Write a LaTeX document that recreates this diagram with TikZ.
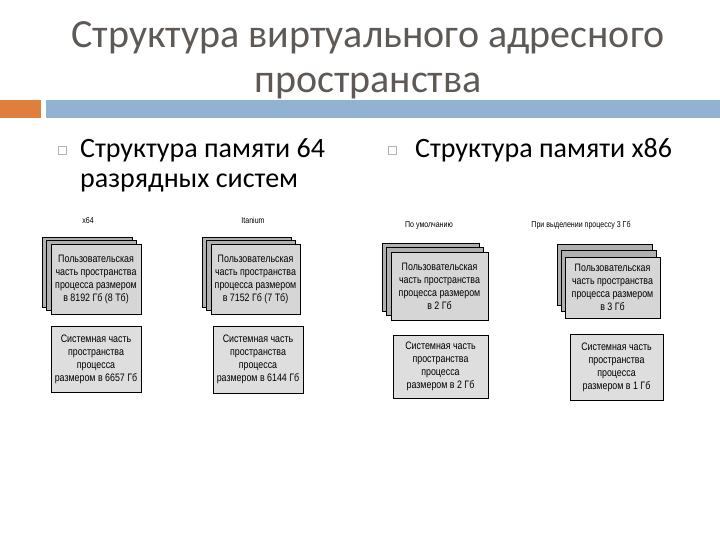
\documentclass[tikz,border=0pt]{standalone}
\usepackage{fontspec}
\setmainfont{Carlito}
\newfontfamily\narrowfont[FakeStretch=0.82]{Liberation Sans}
\usetikzlibrary{positioning}
\definecolor{titlegray}{RGB}{94,89,85}
\definecolor{barorange}{RGB}{224,126,62}
\definecolor{barblue}{RGB}{146,178,210}
\newcommand{\cardfont}{\narrowfont\fontsize{10.8}{13}\selectfont}
\newcommand{\labelfont}{\narrowfont\fontsize{8.6}{9}\selectfont}

\begin{document}
\begin{tikzpicture}[x=1pt, y=-1pt,
  backcard/.style={draw=black, line width=1pt, fill=gray!62},
  usercard/.style={draw=black, line width=1pt, fill=gray!32, align=center, inner sep=1pt, font=\cardfont},
  syscard/.style={draw=black, line width=1pt, fill=gray!26, align=center, inner sep=1pt, font=\cardfont},
  panellabel/.style={anchor=base, inner sep=0pt, font=\labelfont},
  bulletbox/.style={draw=gray!60, fill=white, minimum size=8pt, inner sep=0pt, line width=0.6pt},
  bodytext/.style={anchor=base west, inner sep=0pt, font=\fontsize{28}{30}\selectfont},
  titletext/.style={anchor=base, inner sep=0pt, text=titlegray, font=\fontsize{40}{44}\selectfont}]

\useasboundingbox[fill=white] (0,0) rectangle (720,540);

% ===================== Title and bars =====================
\node[titletext] (title1) at (368,48) {Структура виртуального адресного};
\node[titletext] (title2) at (368,93) {пространства};
\fill[barorange] (0,100) rectangle (41,118);
\fill[barblue] (46,100) rectangle (720,118);

% ===================== Bullets =====================
\node[bulletbox] (bul1) at (62,150) {};
\node[bodytext] (item1a) at (80,158) {Структура памяти 64};
\node[bodytext] (item1b) at ([yshift=-30pt]item1a.base west) {разрядных систем};
\node[bulletbox] (bul2) at (392,150) {};
\node[bodytext] (item2) at (415,158) {Структура памяти x86};

% ===================== Panel 1: x64 =====================
\node[panellabel] (x64lbl) at (88,224) {x64};
\foreach \k in {2,1}{
  \node[backcard, minimum width=90pt, minimum height=70pt,
        xshift={-4.5pt*\k}, yshift={3.5pt*\k}] (x64back\k) at (96,279) {};
}
\node[usercard, minimum width=90pt, minimum height=70pt] (x64user) at (96,279)
  {Пользовательская\\часть пространства\\процесса размером\\в 8192 Гб (8 Тб)};
\node[syscard, minimum width=90pt, minimum height=66pt] (x64sys) at (96,359)
  {Системная часть\\пространства\\процесса\\размером в 6657 Гб};

% ===================== Panel 2: Itanium =====================
\node[panellabel] (itlbl) at (253,223) {Itanium};
\foreach \k in {2,1}{
  \node[backcard, minimum width=89pt, minimum height=70pt,
        xshift={-4.5pt*\k}, yshift={3.5pt*\k}] (itback\k) at (255.5,279) {};
}
\node[usercard, minimum width=89pt, minimum height=70pt] (ituser) at (255.5,279)
  {Пользовательская\\часть пространства\\процесса размером\\в 7152 Гб (7 Тб)};
\node[syscard, minimum width=90pt, minimum height=67pt] (itsys) at (258,359.5)
  {Системная часть\\пространства\\процесса\\размером в 6144 Гб};

% ===================== Panel 3: x86, default =====================
\node[panellabel] (deflbl) at (429,228) {По умолчанию};
\foreach \k in {2,1}{
  \node[backcard, minimum width=97pt, minimum height=68pt,
        xshift={-4.5pt*\k}, yshift={4.5pt*\k}] (defback\k) at (439.5,286) {};
}
\node[usercard, minimum width=97pt, minimum height=68pt] (defuser) at (439.5,286)
  {Пользовательская\\часть пространства\\процесса размером\\в 2 Гб};
\node[syscard, minimum width=95pt, minimum height=63pt] (defsys) at (440.5,366.5)
  {Системная часть\\пространства\\процесса\\размером в 2 Гб};

% ===================== Panel 4: x86, 3 GB =====================
\node[panellabel] (gblbl) at (581,228) {При выделении процессу 3 Гб};
\foreach \k in {2,1}{
  \node[backcard, minimum width=95pt, minimum height=61pt,
        xshift={-4pt*\k}, yshift={6.5pt*\k}] (gbback\k) at (612.5,287.5) {};
}
\node[usercard, minimum width=95pt, minimum height=61pt] (gbuser) at (612.5,287.5)
  {Пользовательская\\часть пространства\\процесса размером\\в 3 Гб};
\node[syscard, minimum width=93pt, minimum height=66pt] (gbsys) at (616.5,367)
  {Системная часть\\пространства\\процесса\\размером в 1 Гб};

\end{tikzpicture}
\end{document}
